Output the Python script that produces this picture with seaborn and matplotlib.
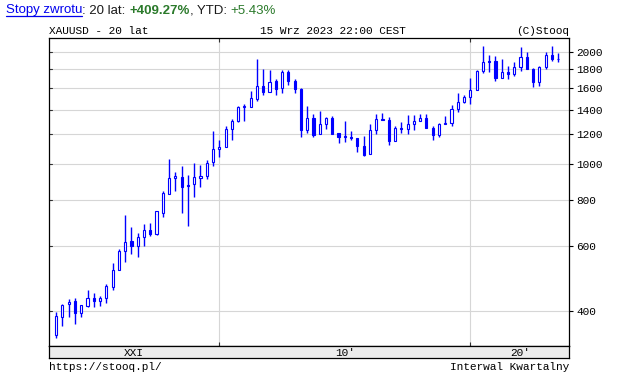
import matplotlib
matplotlib.use('Agg')
import matplotlib.pyplot as plt
import matplotlib.transforms as mtransforms
from matplotlib.lines import Line2D
from matplotlib.ticker import NullLocator
import numpy as np
import pandas as pd
import seaborn as sns

# XAUUSD quarterly candles, Q3 2003 .. Q3 2023
first_quarter = 2003.5
opens = [344, 386, 417, 425, 394, 413, 435, 427, 433, 465,
         516, 581, 618, 598, 634, 663, 646, 737, 830, 914,
         921, 876, 880, 914, 925, 1009, 1094, 1108, 1240, 1305,
         1421, 1424, 1500, 1620, 1565, 1669, 1598, 1772, 1675, 1596,
         1234, 1327, 1200, 1280, 1327, 1208, 1185, 1180, 1172, 1115,
         1061, 1233, 1321, 1316, 1151, 1249, 1242, 1280, 1303, 1325,
         1252, 1192, 1282, 1292, 1409, 1472, 1517, 1577, 1781, 1896,
         1898, 1708, 1770, 1743, 1829, 1937, 1807, 1660, 1824, 1969,
         1919]
highs = [398, 417, 431, 433, 414, 456, 447, 440, 472, 538,
         589, 727, 675, 650, 688, 693, 745, 844, 1032, 950,
         986, 932, 1003, 990, 1024, 1226, 1160, 1265, 1319, 1431,
         1447, 1572, 1919, 1800, 1790, 1690, 1790, 1796, 1694, 1600,
         1432, 1363, 1386, 1334, 1345, 1212, 1305, 1224, 1175, 1191,
         1282, 1362, 1375, 1337, 1264, 1295, 1357, 1357, 1366, 1366,
         1265, 1287, 1346, 1439, 1557, 1535, 1704, 1788, 2075, 1966,
         1959, 1916, 1834, 1877, 2070, 1998, 1814, 1837, 2009, 2079,
         1987]
lows = [339, 365, 386, 368, 385, 411, 411, 413, 420, 455,
        515, 544, 571, 561, 601, 637, 642, 719, 830, 846,
        737, 680, 813, 867, 907, 988, 1045, 1108, 1161, 1296,
        1307, 1419, 1481, 1531, 1563, 1530, 1553, 1635, 1555, 1183,
        1211, 1180, 1200, 1240, 1206, 1136, 1142, 1162, 1077, 1046,
        1061, 1200, 1310, 1123, 1151, 1214, 1205, 1237, 1303, 1252,
        1160, 1183, 1280, 1266, 1381, 1459, 1451, 1577, 1761, 1767,
        1677, 1705, 1690, 1721, 1780, 1805, 1615, 1617, 1804, 1893,
        1885]
closes = [388, 414, 423, 394, 414, 435, 425, 433, 466, 516,
          581, 614, 598, 634, 662, 646, 744, 833, 913, 925,
          867, 869, 920, 925, 1005, 1094, 1110, 1239, 1307, 1421,
          1432, 1503, 1619, 1560, 1666, 1596, 1767, 1675, 1596, 1231,
          1327, 1196, 1278, 1327, 1206, 1179, 1183, 1172, 1115, 1056,
          1234, 1320, 1315, 1151, 1249, 1242, 1280, 1303, 1325, 1252,
          1192, 1282, 1292, 1409, 1466, 1517, 1577, 1781, 1886, 1886,
          1708, 1770, 1743, 1829, 1937, 1807, 1661, 1824, 1969, 1919,
          1924]

price_ticks = [400, 600, 800, 1000, 1200, 1400, 1600, 1800, 2000]
decade_lines = [2010, 2020]
decade_labels = ["XXI", "10'", "20'"]

df = pd.DataFrame({'open': opens, 'high': highs, 'low': lows, 'close': closes})
df['t'] = first_quarter + 0.25 * np.arange(len(df))
df['up'] = df['close'] >= df['open']

sns.set_theme(style='white')
plt.rcParams['font.family'] = ['Liberation Mono', 'DejaVu Sans Mono']

W, H = 637, 375
fig = plt.figure(figsize=(W / 100, H / 100), dpi=100)
fig.patch.set_facecolor('white')


def box(x0, y0, x1, y1):
    # pixel box (top-left origin) -> figure fractions
    return [x0 / W, 1 - y1 / H, (x1 - x0) / W, (y1 - y0) / H]


XMIN, XMAX = 2003.215, 2023.93
BLUE = '#0000ff'

ax = fig.add_axes(box(49, 38, 569, 346))
ax.set_facecolor('white')
ax.set_yscale('log')

# wicks and bodies
ax.vlines(df['t'], df['low'], df['high'], color=BLUE, lw=1.0, zorder=3)
body_lo = df[['open', 'close']].min(axis=1)
body_h = (df['close'] - df['open']).abs()
ax.bar(df['t'], body_h, bottom=body_lo, width=0.085,
       color=np.where(df['up'], 'white', BLUE), edgecolor=BLUE,
       linewidth=0.8, zorder=4)

ax.set_xlim(XMIN, XMAX)
ax.set_ylim(321.8, 2186)
ax.set_yticks(price_ticks)
ax.set_yticklabels([str(v) for v in price_ticks])
ax.yaxis.set_minor_locator(NullLocator())
ax.yaxis.tick_right()
ax.tick_params(axis='y', which='major', right=True, left=False, direction='out',
               length=3, width=0.8, pad=2, labelsize=8, colors='black')
ax.set_xticks(decade_lines)
ax.set_xticklabels([])
ax.xaxis.set_minor_locator(NullLocator())
ax.tick_params(axis='x', top=True, bottom=True, direction='in', length=3,
               width=0.8, color='#333333')
ax.grid(True, color='#d6d6d6', lw=0.8)
ax.set_axisbelow(True)
for sp in ax.spines.values():
    sp.set_color('black')
    sp.set_linewidth(0.9)

# short inward marks on the left spine
ltrans = mtransforms.blended_transform_factory(ax.transAxes, ax.transData)
for v in price_ticks:
    ax.add_line(Line2D([0, 3 / 520], [v, v], transform=ltrans, color='#333333', lw=0.8))

# decade band under the chart
band = fig.add_axes(box(49, 346, 569, 358))
band.set_facecolor('#ececec')
band.set_xlim(XMIN, XMAX)
band.set_ylim(0, 1)
band.set_xticks([])
band.set_yticks([])
for sp in band.spines.values():
    sp.set_color('black')
    sp.set_linewidth(0.9)
edges = [XMIN] + decade_lines + [XMAX]
for lab, a, b in zip(decade_labels, edges[:-1], edges[1:]):
    band.text((a + b) / 2, 0.45, lab, ha='center', va='center', fontsize=8, color='black')

# texts around the chart
mono = dict(fontsize=8, color='black')
fig.text(49 / W, 1 - 34.5 / H, 'XAUUSD - 20 lat', ha='left', va='baseline', **mono)
fig.text(260 / W, 1 - 34.5 / H, '15 Wrz 2023 22:00 CEST', ha='left', va='baseline', **mono)
fig.text(569 / W, 1 - 34.5 / H, '(C)Stooq', ha='right', va='baseline', **mono)
fig.text(49 / W, 1 - 370 / H, 'https://stooq.pl/', ha='left', va='baseline', **mono)
fig.text(569 / W, 1 - 370 / H, 'Interwal Kwartalny', ha='right', va='baseline', **mono)

# header line with mixed colours
renderer = fig.canvas.get_renderer()
sans = ['Liberation Sans', 'DejaVu Sans']
runs = [('Stopy zwrotu', dict(color='#0000ee')),
        (': 20 lat: ', dict(color='#1a1a1a')),
        ('+409.27%', dict(color='#2b7a2b', fontweight='bold')),
        (', YTD: ', dict(color='#1a1a1a')),
        ('+5.43%', dict(color='#2b7a2b'))]


def text_width(s, **kw):
    a = fig.text(0, 0, s + '|', fontsize=9.5, family=sans, **kw)
    b = fig.text(0, 0, '|', fontsize=9.5, family=sans, **kw)
    w = a.get_window_extent(renderer).width - b.get_window_extent(renderer).width
    a.remove()
    b.remove()
    return w


x = 6.0
base = 13.5
for i, (s, kw) in enumerate(runs):
    fig.text(x / W, 1 - base / H, s, ha='left', va='baseline', fontsize=9.5, family=sans, **kw)
    w = text_width(s, **kw)
    if i == 0:
        fig.add_artist(Line2D([x / W, (x + w) / W], [1 - (base + 2) / H] * 2,
                              color='#0000ee', lw=0.9))
    x += w

fig.savefig('out.png', dpi=100)
